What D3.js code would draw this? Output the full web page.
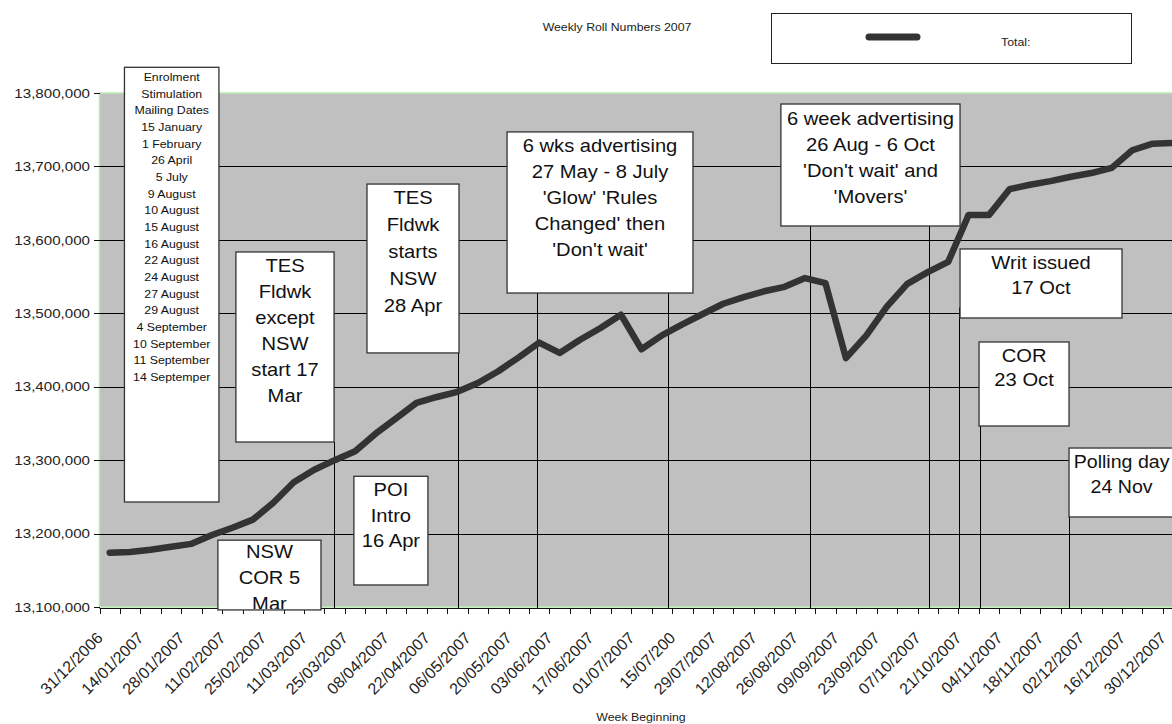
<!DOCTYPE html>
<html>
<head>
<meta charset="utf-8">
<script src="https://cdn.jsdelivr.net/npm/d3@7"></script>
<style>
html,body{margin:0;padding:0;background:#fff;overflow:hidden}
svg{display:block;font-family:"Liberation Sans",Arial,Helvetica,sans-serif}
</style>
</head>
<body>
<svg id="chart" width="1172" height="724"></svg>
<script>
// ---------------- DATA ----------------
const weeks = [
  "31/12/2006","07/01/2007","14/01/2007","21/01/2007","28/01/2007","04/02/2007","11/02/2007",
  "18/02/2007","25/02/2007","04/03/2007","11/03/2007","18/03/2007","25/03/2007","01/04/2007",
  "08/04/2007","15/04/2007","22/04/2007","29/04/2007","06/05/2007","13/05/2007","20/05/2007",
  "27/05/2007","03/06/2007","10/06/2007","17/06/2007","24/06/2007","01/07/2007","08/07/2007",
  "15/07/2007","22/07/2007","29/07/2007","05/08/2007","12/08/2007","19/08/2007","26/08/2007",
  "02/09/2007","09/09/2007","16/09/2007","23/09/2007","30/09/2007","07/10/2007","14/10/2007",
  "21/10/2007","28/10/2007","04/11/2007","11/11/2007","18/11/2007","25/11/2007","02/12/2007",
  "09/12/2007","16/12/2007","23/12/2007","30/12/2007"
];
const rollTotals = [
  13174000,13175000,13178000,13182000,13186000,13198000,13208000,
  13219000,13242000,13270000,13287000,13300000,13312000,13336000,
  13357000,13378000,13386000,13393000,13405000,13421000,13440000,
  13460000,13446000,13464000,13480000,13498000,13451000,13470000,
  13485000,13499000,13513000,13522000,13530000,13536000,13548000,
  13541000,13439000,13470000,13509000,13540000,13556000,13570000,
  13634000,13634000,13669000,13675000,13680000,13686000,13691000,
  13698000,13722000,13731000,13732000
];
const yTickValues = [13100000,13200000,13300000,13400000,13500000,13600000,13700000,13800000];
const xTickLabels = [
  "31/12/2006","14/01/2007","28/01/2007","11/02/2007","25/02/2007","11/03/2007","25/03/2007",
  "08/04/2007","22/04/2007","06/05/2007","20/05/2007","03/06/2007","17/06/2007","01/07/2007",
  "15/07/200","29/07/2007","12/08/2007","26/08/2007","09/09/2007","23/09/2007","07/10/2007",
  "21/10/2007","04/11/2007","18/11/2007","02/12/2007","16/12/2007","30/12/2007"
];
const chartTitle = "Weekly Roll Numbers 2007";
const legendLabel = "Total:";
const xAxisTitle = "Week Beginning";

// Annotation call-outs, anchored in data space (week units, roll values)
const annotations = [
  {lines:["Enrolment","Stimulation","Mailing Dates","15 January","1 February","26 April","5 July",
          "9 August","10 August","15 August","16 August","22 August","24 August","27 August",
          "29 August","4 September","10 September","11 September","14 Septemper"],
   w0:1.22, w1:5.84, top:13835000, bottom:13243000, small:true},
  {lines:["TES","Fldwk","except","NSW","start 17","Mar"],
   w0:6.67, w1:11.47, top:13583500, bottom:13324700, leads:[{w:11.47, from:13324700}]},
  {lines:["TES","Fldwk","starts","NSW","28 Apr"],
   w0:13.08, w1:17.58, top:13676000, bottom:13446000, gap:27, leads:[{w:17.55, from:13446000}]},
  {lines:["NSW","COR 5","Mar"],
   w0:5.79, w1:10.83, top:13191000, bottom:13096000, first:12},
  {lines:["POI","Intro","16 Apr"],
   w0:12.44, w1:16.06, top:13278000, bottom:13130000, gap:25.5},
  {lines:["6 wks advertising","27 May - 8 July","'Glow'  'Rules","Changed' then","'Don't wait'"],
   w0:19.93, w1:29.02, top:13747000, bottom:13527600,
   leads:[{w:21.39, from:13527600},{w:27.80, from:13527600}]},
  {lines:["6 week advertising","26 Aug - 6 Oct","'Don't wait' and","'Movers'"],
   w0:33.32, w1:42.08, top:13785000, bottom:13618900, first:15,
   leads:[{w:34.74, from:13618900},{w:40.54, from:13618900}]},
  {lines:["Writ issued","17 Oct"],
   w0:42.08, w1:50.0, top:13587600, bottom:13493600, gap:25, leads:[{w:42.04, from:13508000}]},
  {lines:["COR","23 Oct"],
   w0:43.01, w1:47.41, top:13460900, bottom:13346500, gap:24, leads:[{w:43.06, from:13377800}]},
  {lines:["Polling day","24 Nov"],
   w0:47.41, w1:53.04, top:13316500, bottom:13222600, gap:25, textW:49.98, size:17.5,
   leads:[{w:47.41, from:13222600}]}
];

// ---------------- LAYOUT ----------------
const SX = 1.12; // horizontal text stretch of the original picture
const plot = {left: 99.5, top: 93, bottom: 607, step: 20.45};
const svg = d3.select("#chart");

const x = d3.scaleBand().domain(weeks)
  .range([plot.left, plot.left + weeks.length * plot.step]).paddingInner(0).paddingOuter(0);
const xu = d3.scaleLinear().domain([0, weeks.length]).range(x.range());
const y = d3.scaleLinear().domain([13100000, 13800000]).range([plot.bottom, plot.top]);
const cx = w => x(w) + x.bandwidth() / 2;
const right = x.range()[1] + 20;

function stext(parent, px, py, str, size, anchor, fill) {
  const g = parent.append("g").attr("transform", `translate(${px},${py}) scale(${SX},1)`);
  return g.append("text").attr("x", 0).attr("y", 0).attr("dy", "0.35em")
    .attr("text-anchor", anchor || "middle").attr("font-size", size)
    .attr("fill", fill || "#111").text(str);
}

// Title
stext(svg, 617, 27, chartTitle, 11, "middle", "#222");

// Legend
svg.append("rect").attr("x", 771.5).attr("y", 13.5).attr("width", 360).attr("height", 50)
  .attr("fill", "#fff").attr("stroke", "#222").attr("stroke-width", 1);
svg.append("line").attr("x1", 869).attr("x2", 917).attr("y1", 37).attr("y2", 37)
  .attr("stroke", "#333").attr("stroke-width", 7).attr("stroke-linecap", "round");
stext(svg, 1001, 42, legendLabel, 11, "start", "#222");

// Plot area
svg.append("rect").attr("x", plot.left).attr("y", plot.top)
  .attr("width", right - plot.left).attr("height", plot.bottom - plot.top)
  .attr("fill", "#c0c0c0").attr("stroke", "#b6ecb0").attr("stroke-width", 1.5);

// Horizontal gridlines
svg.append("g").selectAll("line").data(yTickValues.filter(v => v > 13100000 && v < 13800000))
  .join("line")
  .attr("x1", plot.left).attr("x2", right)
  .attr("y1", d => Math.round(y(d)) + 0.5).attr("y2", d => Math.round(y(d)) + 0.5)
  .attr("stroke", "#000").attr("stroke-width", 1);

// Y axis ticks and labels
const yAxisG = svg.append("g");
yAxisG.selectAll("line").data(yTickValues).join("line")
  .attr("x1", 94).attr("x2", plot.left + 0.5)
  .attr("y1", d => Math.round(y(d)) + 0.5).attr("y2", d => Math.round(y(d)) + 0.5)
  .attr("stroke", "#111").attr("stroke-width", 1);
const fmt = d3.format(",");
yTickValues.forEach(v => stext(yAxisG, 90, y(v), fmt(v), 13.5, "end", "#222"));

// X axis line and ticks (ticks between categories)
const xAxisG = svg.append("g");
xAxisG.append("line").attr("x1", plot.left).attr("x2", right)
  .attr("y1", 608.5).attr("y2", 608.5).attr("stroke", "#111").attr("stroke-width", 1);
const boundaries = weeks.map(w => x(w)).concat([x.range()[1]]);
xAxisG.selectAll("line.tk").data(boundaries).join("line").attr("class", "tk")
  .attr("x1", d => Math.round(d) + 0.5).attr("x2", d => Math.round(d) + 0.5)
  .attr("y1", 608).attr("y2", 614).attr("stroke", "#111").attr("stroke-width", 1);

// X tick labels (every second week), rotated -45
xTickLabels.forEach((lab, k) => {
  const w = weeks[k * 2];
  xAxisG.append("text")
    .attr("transform", `translate(${cx(w) - 6},639) rotate(-45)`)
    .attr("text-anchor", "end").attr("font-size", 16).attr("fill", "#222").text(lab);
});
stext(svg, 641, 717, xAxisTitle, 11, "middle", "#222");

// Annotation leader lines
const leadG = svg.append("g");
annotations.forEach(a => (a.leads || []).forEach(l => {
  const lx = Math.round(xu(l.w)) + 0.5;
  leadG.append("line").attr("x1", lx).attr("x2", lx)
    .attr("y1", y(l.from)).attr("y2", plot.bottom + 1)
    .attr("stroke", "#000").attr("stroke-width", 1);
}));

// Data line
svg.append("path").datum(rollTotals)
  .attr("d", d3.line().x((d, i) => cx(weeks[i])).y(d => y(d)))
  .attr("fill", "none").attr("stroke", "#333").attr("stroke-width", 6.5)
  .attr("stroke-linejoin", "round").attr("stroke-linecap", "round");

// Annotation boxes
const defs = svg.append("defs");
annotations.forEach((a, i) => {
  const x0 = xu(a.w0), x1 = xu(a.w1), y0 = y(a.top), y1 = y(a.bottom);
  const g = svg.append("g");
  g.append("rect").attr("x", x0).attr("y", y0).attr("width", x1 - x0).attr("height", y1 - y0)
    .attr("fill", "#fff").attr("stroke", "#333").attr("stroke-width", 1.3);
  defs.append("clipPath").attr("id", "clip" + i).append("rect")
    .attr("x", x0).attr("y", y0).attr("width", x1 - x0).attr("height", y1 - y0 - 1);
  const tg = g.append("g").attr("clip-path", `url(#clip${i})`);
  const size = a.small ? 11 : (a.size || 18);
  const gap = a.small ? 16.67 : (a.gap || 26);
  const first = a.small ? 9.7 : (a.first || 13.5);
  const mid = a.textW != null ? xu(a.textW) : (x0 + x1) / 2;
  a.lines.forEach((ln, k) => stext(tg, mid, y0 + first + k * gap, ln, size, "middle", "#111"));
});
</script>
</body>
</html>
